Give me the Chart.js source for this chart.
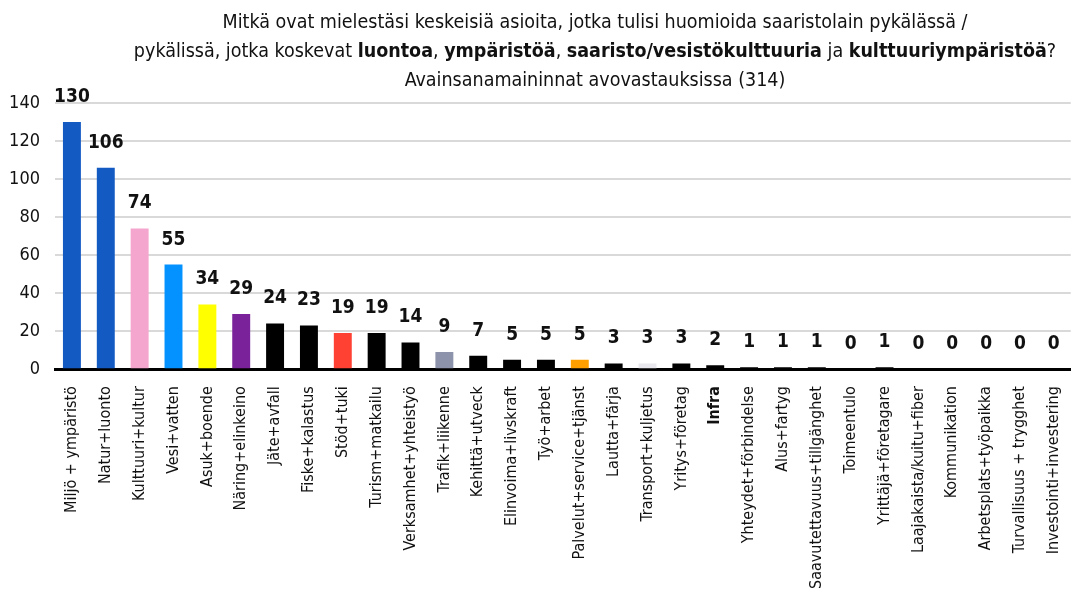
<!DOCTYPE html>
<html>
<head>
<meta charset="utf-8">
<script src="https://cdn.jsdelivr.net/npm/chart.js@4/dist/chart.umd.min.js"></script>
<style>
  html, body { margin: 0; padding: 0; background: #fff; }
  #wrap { position: relative; width: 1082px; height: 605px; }
  #title {
    position: absolute; left: 110px; top: 7px; width: 970px;
    text-align: center; font-family: "Liberation Sans Narrow", "DejaVu Sans Condensed", sans-serif;
    font-size: 19.5px; line-height: 29px; color: #111;
  }
  #title b { font-weight: bold; }
</style>
</head>
<body>
<div id="wrap">
  <canvas id="chart" width="1082" height="605"></canvas>
  <div id="title">
    Mitkä ovat mielestäsi keskeisiä asioita, jotka tulisi huomioida saaristolain pykälässä /<br>
    pykälissä, jotka koskevat <b>luontoa</b>, <b>ympäristöä</b>, <b>saaristo/vesistökulttuuria</b> ja <b>kulttuuriympäristöä</b>?<br>
    Avainsanamaininnat avovastauksissa (314)
  </div>
</div>
<script>
const categories = [
    'Miljö + ympäristö', 'Natur+luonto', 'Kulttuuri+kultur', 'Vesi+vatten', 'Asuk+boende',
    'Näring+elinkeino', 'Jäte+avfall', 'Fiske+kalastus', 'Stöd+tuki', 'Turism+matkailu',
    'Verksamhet+yhteistyö', 'Trafik+liikenne', 'Kehittä+utveck', 'Elinvoima+livskraft', 'Työ+arbet',
    'Palvelut+service+tjänst', 'Lautta+färja', 'Transport+kuljetus', 'Yritys+företag', 'Infra',
    'Yhteydet+förbindelse', 'Alus+fartyg', 'Saavutettavuus+tillgänghet', 'Toimeentulo', 'Yrittäjä+företagare',
    'Laajakaista/kuitu+fiber', 'Kommunikation', 'Arbetsplats+työpaikka', 'Turvallisuus + trygghet', 'Investointi+investering'
];
const mentions = [130, 106, 74, 55, 34, 29, 24, 23, 19, 19, 14, 9, 7, 5, 5, 5, 3, 3, 3, 2, 1, 1, 1, 0, 1, 0, 0, 0, 0, 0];
const barColors = [
    '#135ac2', '#135ac2', '#f4a6cf', '#0392ff', '#ffff00', '#7a2299', '#000000', '#000000', '#ff4133', '#000000',
    '#000000', '#8d93aa', '#000000', '#000000', '#000000', '#ff9f00', '#000000', '#e8e8ee', '#000000', '#000000',
    '#000000', '#000000', '#000000', '#000000', '#000000', '#000000', '#000000', '#000000', '#000000', '#000000'
];
const yTicks = [0, 20, 40, 60, 80, 100, 120, 140];

const FONT = '"Liberation Sans Narrow", "DejaVu Sans Condensed", sans-serif';
Chart.defaults.font.family = FONT;
Chart.defaults.color = '#111';

// numbers above the bars
const valueLabels = {
    id: 'valueLabels',
    afterDatasetsDraw(chart) {
        const ctx = chart.ctx;
        const meta = chart.getDatasetMeta(0);
        ctx.save();
        ctx.font = 'bold 19px ' + FONT;
        ctx.fillStyle = '#111';
        ctx.textAlign = 'center';
        ctx.textBaseline = 'middle';
        meta.data.forEach((bar, i) => {
            ctx.fillText(mentions[i], bar.x, bar.y - 25);
        });
        ctx.restore();
    }
};

new Chart(document.getElementById('chart'), {
    type: 'bar',
    data: {
        labels: categories,
        datasets: [{
            data: mentions,
            backgroundColor: barColors,
            barPercentage: 0.53,
            categoryPercentage: 1
        }]
    },
    options: {
        responsive: false,
        animation: false,
        layout: { padding: { top: 103, left: 3, right: 0, bottom: 7 } },
        plugins: { legend: { display: false }, tooltip: { enabled: false } },
        scales: {
            x: {
                grid: { display: false },
                border: { display: true, color: '#000', width: 3 },
                ticks: {
                    autoSkip: false,
                    minRotation: 90,
                    maxRotation: 90,
                    padding: 9,
                    color: '#111',
                    font: (c) => ({ size: 16, family: FONT, weight: categories[c.index] === 'Infra' ? 'bold' : 'normal' })
                }
            },
            y: {
                min: 0,
                max: 140,
                afterBuildTicks: (axis) => { axis.ticks = yTicks.map(v => ({ value: v })); },
                afterFit: (axis) => { axis.width = 52; },
                grid: { color: '#d9d9d9', lineWidth: 2, drawTicks: false },
                border: { display: false },
                ticks: { padding: 15, color: '#111', font: { size: 18 } }
            }
        }
    },
    plugins: [valueLabels]
});
</script>
</body>
</html>
